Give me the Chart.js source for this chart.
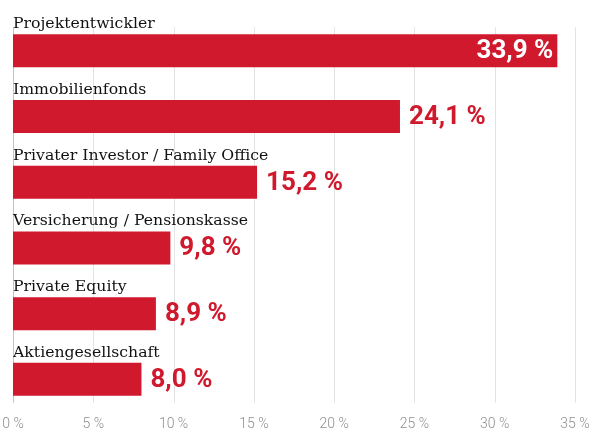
<!DOCTYPE html>
<html>
<head>
<meta charset="utf-8">
<script src="https://cdn.jsdelivr.net/npm/chart.js@4"></script>
<style>
  html, body { margin: 0; padding: 0; background: #fff; }
  #wrap { width: 612px; height: 441px; position: relative; }
</style>
</head>
<body>
<div id="wrap"><canvas id="c"></canvas></div>
<script>
const categories = [
  "Projektentwickler",
  "Immobilienfonds",
  "Privater Investor / Family Office",
  "Versicherung / Pensionskasse",
  "Private Equity",
  "Aktiengesellschaft"
];
const values = [33.9, 24.1, 15.2, 9.8, 8.9, 8.0];
const xTickValues = [0, 5, 10, 15, 20, 25, 30, 35];

const RED = "#d0192c";
const fmt = v => v.toFixed(1).replace(".", ",") + " %";

const gridPlugin = {
  id: "customGrid",
  beforeDatasetsDraw(chart) {
    const { ctx } = chart;
    const xs = chart.scales.x, ys = chart.scales.y;
    const yTop = ys.getPixelForValue(0) - 23.5;
    const yBot = ys.getPixelForValue(categories.length - 1) + 23.5;
    ctx.save();
    ctx.lineWidth = 1;
    xs.ticks.forEach(t => {
      const px = Math.round(xs.getPixelForValue(t.value)) + 0.5;
      ctx.strokeStyle = t.value === 0 ? "#c4c4c4" : "#e3e3e3";
      ctx.beginPath();
      ctx.moveTo(px, yTop);
      ctx.lineTo(px, yBot);
      ctx.stroke();
    });
    ctx.restore();
  }
};

const labelPlugin = {
  id: "barLabels",
  afterDatasetsDraw(chart) {
    const { ctx } = chart;
    const meta = chart.getDatasetMeta(0);
    const x0 = chart.scales.x.getPixelForValue(0);
    ctx.save();
    meta.data.forEach((bar, i) => {
      const top = bar.y - bar.height / 2;
      // category label above the bar
      ctx.font = "15.7px 'DejaVu Serif'";
      ctx.fillStyle = "#111";
      ctx.textAlign = "left";
      ctx.textBaseline = "alphabetic";
      ctx.fillText(categories[i], x0, top - 6);
      // value label
      ctx.font = "bold 26px Roboto";
      ctx.textBaseline = "middle";
      const txt = fmt(values[i]);
      const w = ctx.measureText(txt).width;
      if (bar.x + 9 + w > chart.width - 4) {
        ctx.fillStyle = "#fff";
        ctx.textAlign = "right";
        ctx.fillText(txt, bar.x - 4, bar.y + 1);
      } else {
        ctx.fillStyle = RED;
        ctx.textAlign = "left";
        ctx.fillText(txt, bar.x + 9, bar.y + 1);
      }
    });
    ctx.restore();
  }
};

new Chart(document.getElementById("c"), {
  type: "bar",
  data: {
    labels: categories,
    datasets: [{
      data: values,
      backgroundColor: RED,
      borderWidth: 0,
      barPercentage: 0.503,
      categoryPercentage: 1.0
    }]
  },
  options: {
    indexAxis: "y",
    responsive: true,
    maintainAspectRatio: false,
    animation: false,
    layout: { padding: { left: 13, right: 37, top: 18, bottom: 4 } },
    plugins: { legend: { display: false }, tooltip: { enabled: false } },
    scales: {
      x: {
        type: "linear",
        min: 0,
        max: 35,
        afterBuildTicks(scale) { scale.ticks = xTickValues.map(v => ({ value: v })); },
        afterFit(scale) { scale.paddingLeft = 0; scale.paddingRight = 0; },
        grid: { display: false, drawTicks: false },
        border: { display: false },
        ticks: {
          padding: 4,
          color: "#8f8f8f",
          font: { family: "Roboto", size: 14, weight: 300 },
          callback: v => v + " %"
        }
      },
      y: {
        display: false,
        grid: { display: false }
      }
    }
  },
  plugins: [gridPlugin, labelPlugin]
});
</script>
</body>
</html>
